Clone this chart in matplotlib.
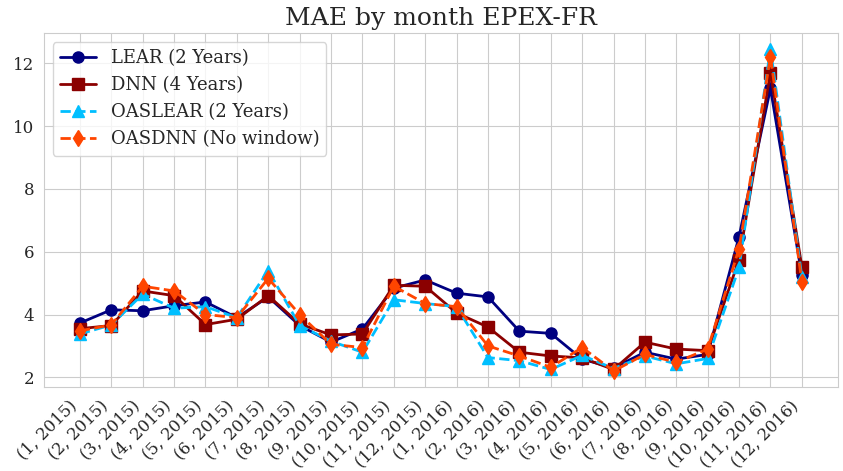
import numpy as np
import matplotlib
matplotlib.use("Agg")
import matplotlib.pyplot as plt
import seaborn as sns

months = [(m, 2015) for m in range(1, 13)] + [(m, 2016) for m in range(1, 13)]
tick_labels = [str(m) for m in months]

lear = [3.73, 4.15, 4.12, 4.28, 4.40, 3.90, 4.56, 3.65, 3.12, 3.54, 4.84, 5.10,
        4.68, 4.56, 3.47, 3.40, 2.58, 2.30, 2.80, 2.58, 2.73, 6.48, 11.20, 5.25]
dnn = [3.55, 3.65, 4.75, 4.60, 3.68, 3.85, 4.60, 3.70, 3.35, 3.38, 4.93, 4.90,
       4.05, 3.60, 2.80, 2.68, 2.62, 2.25, 3.12, 2.90, 2.85, 5.75, 11.70, 5.52]
oaslear = [3.38, 3.67, 4.65, 4.20, 4.25, 3.90, 5.40, 3.65, 3.15, 2.80, 4.47, 4.35,
           4.25, 2.63, 2.53, 2.25, 2.70, 2.28, 2.68, 2.43, 2.60, 5.50, 12.45, 5.20]
oasdnn = [3.48, 3.67, 4.90, 4.75, 4.00, 3.90, 5.15, 4.00, 3.05, 2.95, 4.90, 4.35,
          4.25, 3.00, 2.68, 2.32, 2.95, 2.20, 2.73, 2.48, 2.90, 6.10, 12.20, 5.05]

sns.set_style("whitegrid")
plt.rcParams['font.family'] = ['DejaVu Serif']

fig, ax = plt.subplots(figsize=(8.43, 4.71), dpi=100)
x = np.arange(len(months))

ax.plot(x, lear, c='navy', marker='o', ms=8, lw=2, label='LEAR (2 Years)')
ax.plot(x, dnn, c='darkred', marker='s', ms=8, lw=2, label='DNN (4 Years)')
ax.plot(x, oaslear, c='deepskyblue', marker='^', ms=8, lw=2, ls='--', label='OASLEAR (2 Years)')
ax.plot(x, oasdnn, c='orangered', marker='d', ms=8, lw=2, ls='--', label='OASDNN (No window)')

ax.set_xticks(x)
ax.set_xticklabels(tick_labels, rotation=45, ha='right', fontsize=12)
ax.tick_params(axis='y', labelsize=12)
ax.set_title('MAE by month EPEX-FR', fontsize=18)
ax.legend(loc='upper left', fontsize=13)

plt.subplots_adjust(left=0.052, right=0.994, top=0.93, bottom=0.178)
fig.savefig('out.png')
